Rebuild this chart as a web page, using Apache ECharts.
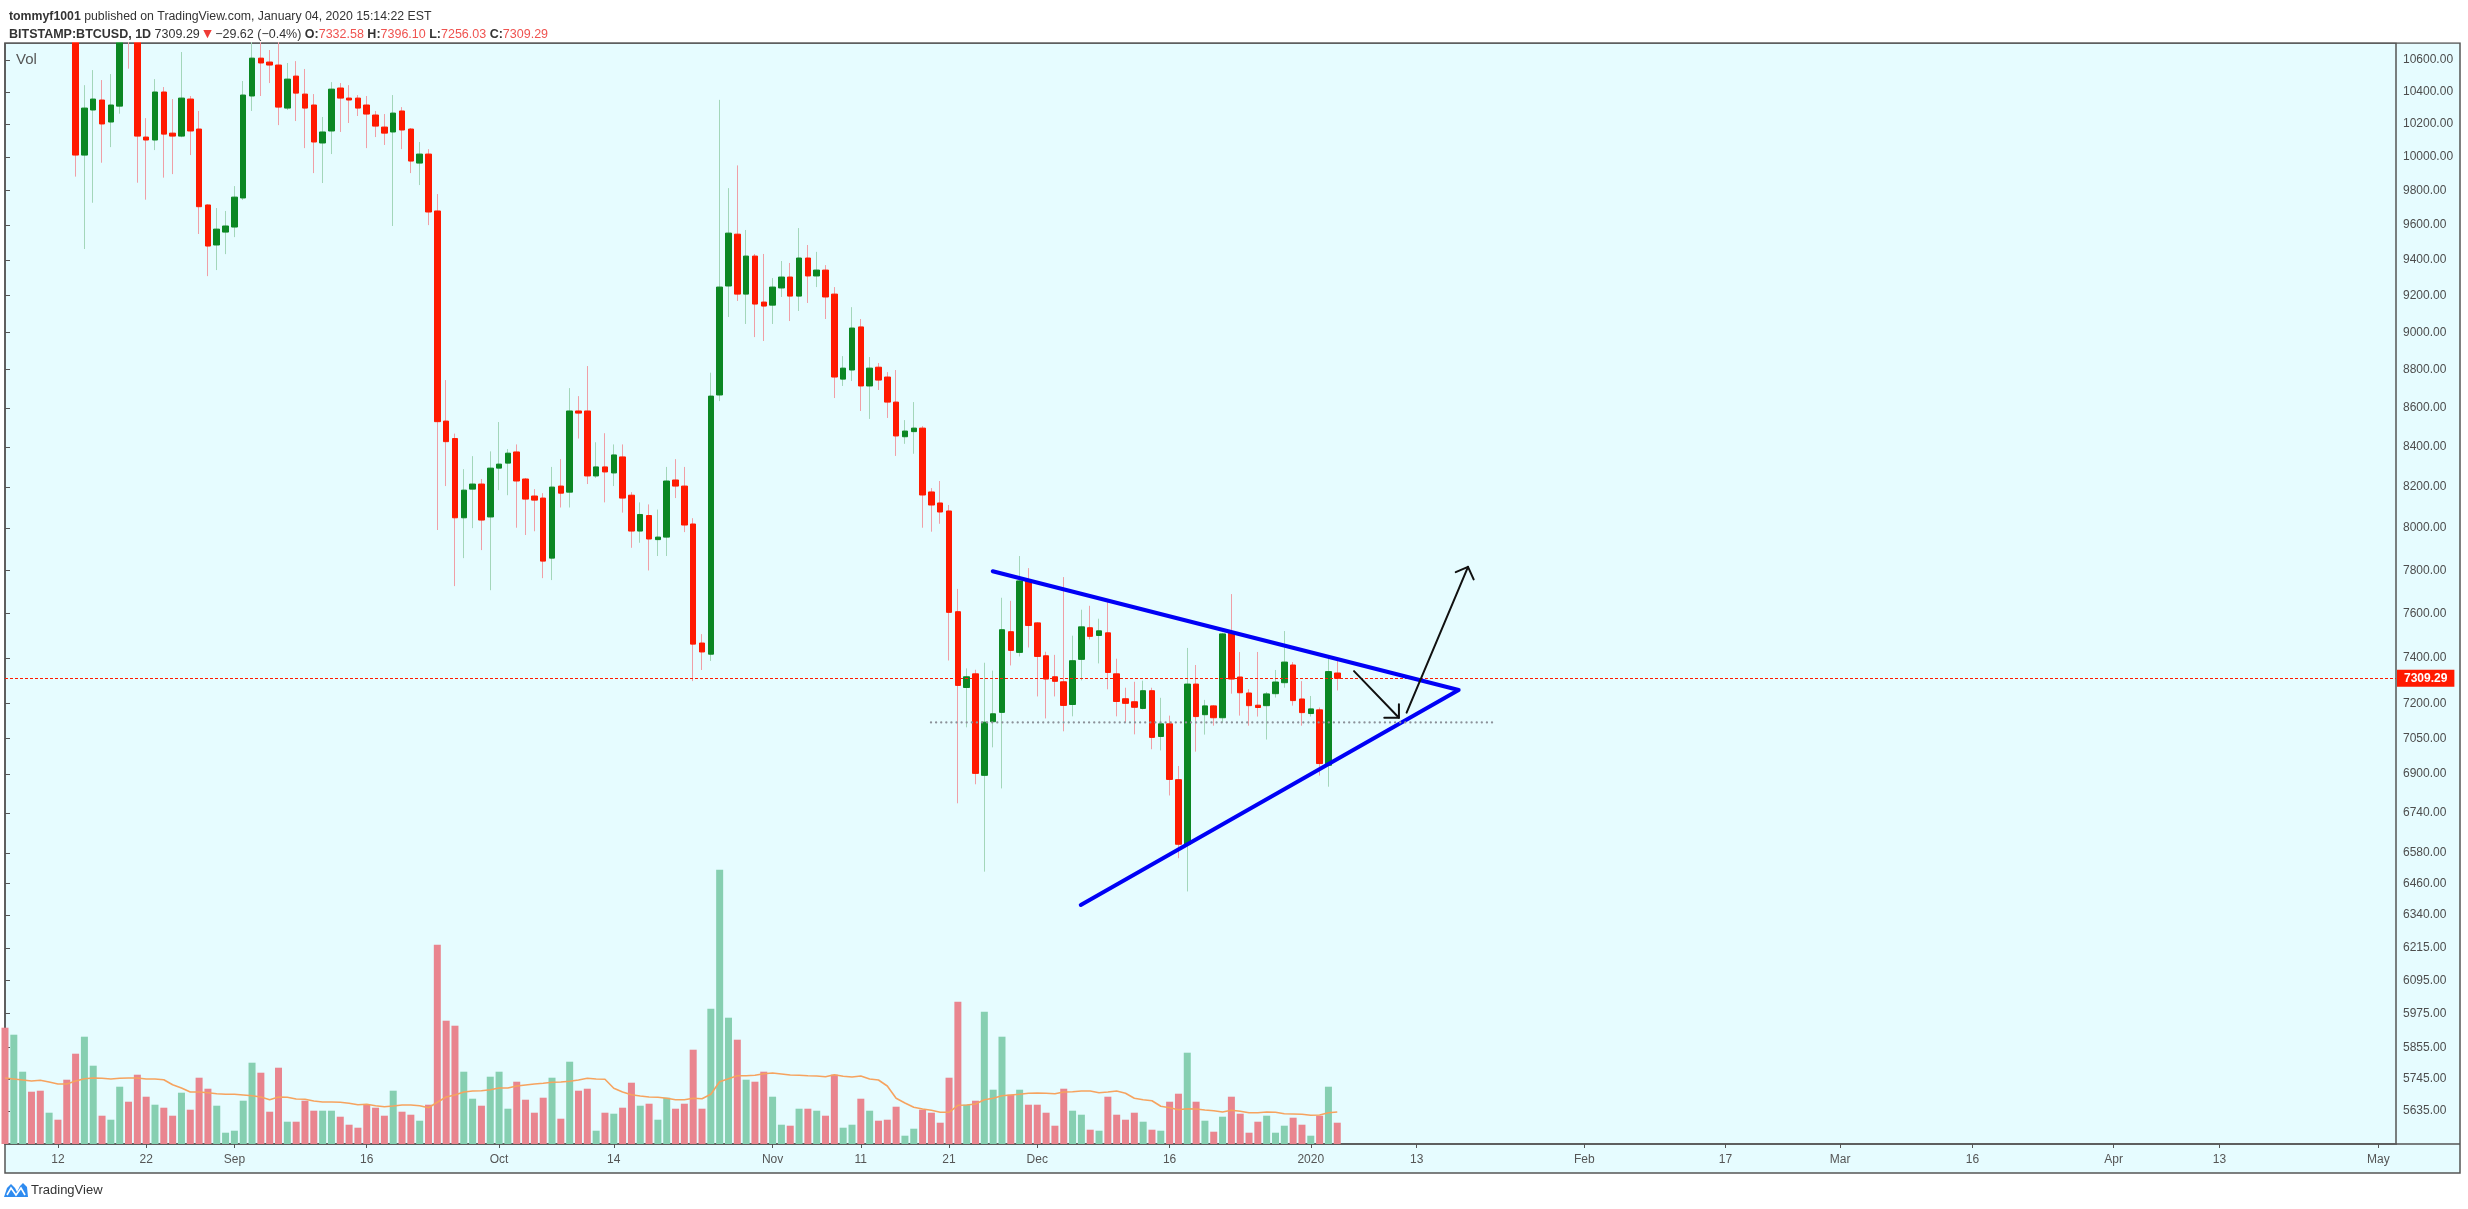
<!DOCTYPE html>
<html><head><meta charset="utf-8">
<script src="https://cdn.jsdelivr.net/npm/echarts@6/dist/echarts.min.js"></script>
<style>html,body{margin:0;padding:0;background:#fff;}#c{width:2468px;height:1209px;}</style>
</head><body><div id="c"></div>
<script>
// ---------- data (BITSTAMP:BTCUSD daily, 2019-08-06 .. 2020-01-04) ----------
const firstDay = '2019-08-06';
const axisLastDay = '2020-05-03';
const open = [
11800,11470,11960,11970,11860,11290,11540,11390,10870,10012,10287,10349,10213,10311,10920,10760,10121,10103,10399,10145,10127,10355,10170,9716,9485,9559,
9588,9757,10374,10613,10588,10569,10299,10499,10386,10318,10085,10158,10424,10361,10361,10318,10256,10182,10152,10281,10170,9964,10018,9681,8532,8443,8050,8190,8215,8054,
8294,8319,8375,8240,8156,8146,7857,8205,8175,8584,8584,8255,8300,8270,8350,8160,7986,8061,7945,7957,8235,8205,8020,7466,7416,8667,9254,9547,9209,9422,9165,
9148,9243,9304,9198,9411,9310,9343,9209,8750,8798,9029,8714,8813,8761,8630,8452,8478,8496,8176,8122,8083,7608,7269,7329,6895,7121,7161,7517,7424,7750,
7557,7409,7316,7294,7195,7393,7535,7500,7512,7329,7220,7207,7178,7255,7058,7112,6877,6615,7284,7151,7189,7138,7511,7315,7245,7192,7190,7242,7290,7368,7219,
7156,7172,6937,7332.58];
const high = [
12000,12120,12010,12030,11960,11550,11580,11450,10900,10442,10537,10474,10512,10950,10950,10800,10237,10480,10430,10355,10652,10374,10281,9720,9698,9681,
9827,10468,10780,10800,10665,10900,10582,10594,10544,10386,10244,10461,10455,10442,10380,10374,10281,10262,10380,10305,10176,10091,10048,9780,8745,8468,8289,8354,8240,8378,
8527,8390,8413,8245,8190,8170,8300,8339,8703,8661,8819,8424,8470,8413,8413,8175,8125,8115,8090,8300,8339,8300,8048,7506,8784,10350,9815,9950,9571,9434,9434,
9298,9394,9383,9582,9485,9446,9371,9248,8872,9137,9072,8867,8835,8787,8798,8537,8630,8506,8195,8230,8112,7713,7353,7347,7378,7343,7672,7658,7867,7810,
7560,7427,7413,7768,7499,7617,7635,7576,7654,7396,7268,7294,7299,7268,7224,7147,6934,7444,7368,7215,7192,7512,7689,7426,7262,7426,7249,7346,7520,7381,7297,
7232,7182,7403,7396.10];
const low = [
11230,11390,11500,11660,11250,11120,11240,10780,9883,9462,9729,9966,10060,10264,10546,9847,9747,10042,9877,9898,10120,10012,9548,9309,9343,9433,
9530,9745,10281,10374,10455,10194,10287,10219,10054,9904,9845,10018,10152,10207,10250,10054,10121,10073,9594,10048,9904,9833,9599,7991,8205,7726,7857,8000,7895,7707,
8185,8160,8002,7967,7985,7763,7754,8100,8100,8443,8215,8245,8125,8205,8075,7906,7930,7799,7867,7867,8146,7981,7297,7346,7386,8635,9083,9171,9045,8974,8953,
9045,9193,9061,9116,9160,9248,9072,8651,8714,8740,8584,8543,8693,8548,8355,8416,8366,8002,7983,8021,7388,6780,7097,6858,6507,7012,6841,7366,7406,7446,
7230,7135,7230,7080,7144,7300,7482,7375,7261,7144,7118,7067,7174,7004,6999,6812,6560,6430,6994,7066,7104,7117,7242,7147,7104,7143,7045,7225,7268,7190,7104,
7143,6894,6848,7256.03];
const close = [
11470,11960,11970,11860,11290,11540,11390,10870,10012,10299,10355,10201,10318,10920,10760,10127,10103,10399,10139,10127,10361,10158,9706,9479,9576,9594,
9762,10380,10613,10582,10569,10305,10480,10392,10299,10091,10152,10417,10361,10349,10299,10262,10188,10145,10268,10164,9976,10018,9675,8529,8427,8050,8185,8215,8039,8294,
8314,8369,8230,8141,8136,7843,8200,8170,8584,8573,8255,8300,8275,8360,8146,7986,8066,7948,7957,8230,8205,8015,7461,7426,8661,9248,9553,9209,9422,9154,9143,
9248,9304,9198,9411,9310,9343,9193,8761,8808,9023,8714,8808,8745,8630,8456,8481,8496,8161,8112,8078,7605,7278,7316,6903,7119,7155,7526,7433,7750,7545,
7406,7306,7296,7191,7387,7539,7496,7521,7335,7208,7200,7183,7255,7054,7112,6878,6615,7284,7143,7189,7138,7507,7306,7246,7190,7182,7241,7293,7381,7212,7160,
7176,6944,7338.91,7309.29];
const volume = [
11630,10930,7230,5230,5330,3130,2430,6430,9030,10730,7830,2830,2430,5730,4230,6930,4730,3930,3630,2830,5130,3430,6630,5530,3830,1130,
1330,4330,8130,7130,3230,7630,2230,2230,4330,3330,3330,3330,2730,1930,1630,3930,3630,2830,5330,3230,2930,2330,3930,19930,12330,11830,7230,4530,3830,6730,
7230,3530,6230,4430,3130,4630,6630,2530,8230,5330,5530,1330,3130,3030,3630,6130,3830,4030,2430,4630,3530,4030,9430,3530,13530,27430,12630,10430,6430,6230,7230,
4730,1930,1830,3530,3530,3330,2830,6930,1630,1930,4530,3330,2330,2430,3730,830,1530,3430,3130,2130,6630,14230,3930,4330,13230,5430,10730,4930,5430,3930,
3930,3130,1830,5530,3330,2930,1430,1330,4730,2930,2430,3130,2230,1430,1330,4230,5030,9130,4230,2330,1230,2730,4730,3030,1130,2230,2830,1130,1830,2630,1930,
830,2830,5730,2130];
const volumeMA = [
6600,6500,6400,6300,6370,6200,6000,6000,6300,6530,6600,6570,6500,6570,6600,6600,6500,6500,6430,5930,5600,5200,5200,5130,5030,4970,
4970,4900,4830,4700,4430,4700,4670,4500,4470,4300,4200,4200,4170,4070,3930,3970,3830,3730,3800,3900,3900,3830,3630,4170,4700,4900,5200,5300,5330,5430,
5600,5600,5800,5900,6000,6070,6170,6200,6270,6400,6570,6500,6470,5570,5200,4930,4800,4700,4670,4570,4430,4430,4570,4530,4970,6230,6530,6830,6830,6870,7030,
7100,7000,6900,6870,6830,6800,6730,6930,6770,6700,6800,6500,6400,5800,4570,4100,3670,3500,3370,3170,3170,3870,3900,4000,4430,4570,4830,4900,4970,5070,
5100,5070,5030,5200,5230,5300,5300,5130,5200,5300,5070,4570,4430,4330,3770,3630,3430,3530,3500,3400,3330,3200,3370,3270,3130,3130,3200,3170,3030,3000,2970,
2870,2900,3130,3200];
const lastPrice = 7309.29;
const tickDates = ['2019-08-12','2019-08-22','2019-09-01','2019-09-16','2019-10-01','2019-10-14','2019-11-01','2019-11-11','2019-11-21','2019-12-01','2019-12-16','2020-01-01','2020-01-13','2020-02-01','2020-02-17','2020-03-01','2020-03-16','2020-04-01','2020-04-13','2020-05-01'];
const tickLabels = ['12','22','Sep','16','Oct','14','Nov','11','21','Dec','16','2020','13','Feb','17','Mar','16','Apr','13','May'];
const priceTicks = [5635,5745,5855,5975,6095,6215,6340,6460,6580,6740,6900,7050,7200,7400,7600,7800,8000,8200,8400,8600,8800,9000,9200,9400,9600,9800,10000,10200,10400,10600];
// drawings: [days after 2019-08-06, price]
const triangleLines = [[111.95,7795],[164.76,7258],[121.93,6378]];
const dottedLevel = [[104.95,7118],[168.8,7118]];
const arrowDownShaft = [[152.9,7341],[157.99,7138]];
const arrowDownHead = [[156.33,7138],[157.99,7138],[157.99,7196]];
const arrowUpShaft = [[158.86,7160],[165.82,7816]];
const arrowUpHead = [[164.43,7791],[165.82,7816],[166.46,7757]];

// ---------- helpers ----------
function dayList(startIso, endIso) {
  const s = Date.parse(startIso + 'T00:00:00Z'), e = Date.parse(endIso + 'T00:00:00Z');
  const out = [];
  for (let t = s; t <= e; t += 86400000) out.push(new Date(t).toISOString().slice(0, 10));
  return out;
}
const categories = dayList(firstDay, axisLastDay);
const tickMap = {};
tickDates.forEach((d, i) => { tickMap[d] = tickLabels[i]; });

const UP = '#0B8723', DOWN = '#FF1A00';
const WICK_UP = '#A3D6BA', WICK_DOWN = '#F09FA6';
const VOL_UP = '#86CFB1', VOL_DOWN = '#E9858F';
const FONT = 'Liberation Sans, Arial, sans-serif';

const wickData = open.map((o, i) => [o, close[i], low[i], high[i]]);
const bodyData = open.map((o, i) => [o, close[i], Math.min(o, close[i]), Math.max(o, close[i])]);
const volData = volume.map((v, i) => ({ value: v, itemStyle: { color: close[i] >= open[i] ? VOL_UP : VOL_DOWN } }));

const chart = echarts.init(document.getElementById('c'), null, { renderer: 'canvas' });
const lineSeries = (name, data, color, width, type, z) => ({
  name, type: 'line', xAxisIndex: 1, yAxisIndex: 0, data, symbol: 'none', silent: true,
  lineStyle: { color, width, type: type || 'solid', cap: 'round', join: 'round' }, z: z || 6, animation: false
});

chart.setOption({
  animation: false,
  backgroundColor: '#ffffff',
  title: [
    { left: 4, top: 6, z: 100, text: '{b|tommyf1001} published on TradingView.com, January 04, 2020 15:14:22 EST',
      textStyle: { fontSize: 12.3, fontWeight: 'normal', color: '#333', fontFamily: FONT,
        rich: { b: { fontSize: 12.3, fontWeight: 'bold', color: '#333', fontFamily: FONT } } } },
    { left: 4, top: 23, z: 100, text: '{b|BITSTAMP:BTCUSD, 1D} {n|7309.29} {t|▼} {n|−29.62 (−0.4%)} {b|O:}{r|7332.58} {b|H:}{r|7396.10} {b|L:}{r|7256.03} {b|C:}{r|7309.29}',
      textStyle: { fontSize: 12.5, fontWeight: 'normal', color: '#333', fontFamily: FONT,
        rich: {
          b: { fontSize: 12.5, fontWeight: 'bold', color: '#333', fontFamily: FONT },
          n: { fontSize: 12.5, color: '#333', fontFamily: FONT },
          t: { fontSize: 11, color: '#EF3B36', fontFamily: 'DejaVu Sans' },
          r: { fontSize: 12.5, color: '#EF5350', fontFamily: FONT } } } }
  ],
  graphic: [
    { type: 'rect', z: -10, silent: true, shape: { x: 5, y: 43, width: 2455, height: 1130 },
      style: { fill: '#E6FCFF', stroke: '#555', lineWidth: 1.5 } },
    { type: 'rect', z: 50, silent: true, shape: { x: 0, y: 0, width: 2468, height: 42.2 },
      style: { fill: '#ffffff' } },
    { type: 'line', z: 10, silent: true, shape: { x1: 2396, y1: 1144, x2: 2460, y2: 1144 },
      style: { stroke: '#555', lineWidth: 1.5 } },
    { type: 'text', z: 10, silent: true, left: 16, top: 52,
      style: { text: 'Vol', fill: '#555', font: '15px ' + FONT } },
    { type: 'group', left: 4, top: 1183, children: [
      { type: 'polygon', shape: { points: [[0,14],[3,5],[7,1],[11,5],[13,9],[16,3],[19,0],[23,4],[24,14]] },
        style: { fill: '#2E8BF0' } },
      { type: 'polyline', shape: { points: [[3,12],[7,5],[12,12],[17,5],[21,12]] },
        style: { stroke: '#fff', lineWidth: 1.6, fill: null } },
      { type: 'text', x: 27, y: 1, style: { text: 'TradingView', fill: '#333', font: '13px ' + FONT } }
    ] }
  ],
  grid: [
    { left: 5, right: 72, top: 43, bottom: 65, show: true, borderColor: '#555', borderWidth: 1.5, backgroundColor: 'rgba(0,0,0,0)', z: 1 },
    { left: 5, right: 72, top: 844, bottom: 65, show: false }
  ],
  xAxis: [
    { type: 'category', gridIndex: 0, data: categories, boundaryGap: false,
      axisLine: { show: true, lineStyle: { color: '#555', width: 1.5 } },
      axisTick: { show: true, length: 4, interval: (i, v) => tickMap[v] !== undefined, lineStyle: { color: '#555' } },
      axisLabel: { show: true, interval: (i, v) => tickMap[v] !== undefined, formatter: v => tickMap[v] || '',
        color: '#555', fontSize: 12, fontFamily: FONT, margin: 10 },
      splitLine: { show: false } },
    { type: 'value', gridIndex: 0, min: 0, max: categories.length - 1, show: false },
    { type: 'category', gridIndex: 1, data: categories, boundaryGap: false, show: false }
  ],
  yAxis: [
    { type: 'log', gridIndex: 0, position: 'right', min: 5524, max: 10710, logBase: 10,
      axisLine: { show: false },
      axisTick: { show: true, length: 5, customValues: priceTicks, lineStyle: { color: '#555' } },
      axisLabel: { show: true, customValues: priceTicks, formatter: v => Number(v).toFixed(2),
        color: '#4d4d4d', fontSize: 12, fontFamily: FONT, margin: 7 },
      splitLine: { show: false } },
    { type: 'value', gridIndex: 1, min: 0, max: 30000, show: false }
  ],
  series: [
    { name: 'wicks', type: 'candlestick', xAxisIndex: 0, yAxisIndex: 0, data: wickData, barWidth: 1, clip: true, z: 2,
      itemStyle: { color: WICK_UP, color0: WICK_DOWN, borderColor: WICK_UP, borderColor0: WICK_DOWN, borderWidth: 1 },
      markLine: { silent: true, symbol: ['none', 'none'], animation: false,
        lineStyle: { color: '#FF1A00', type: [3, 2], width: 1 },
        label: { show: true, position: 'end', distance: 1, formatter: lastPrice.toFixed(2), backgroundColor: '#FF1A00',
          color: '#fff', fontWeight: 'bold', fontSize: 12, fontFamily: FONT, padding: [3, 7, 2, 7] },
        data: [{ yAxis: lastPrice }] } },
    { name: 'bodies', type: 'candlestick', xAxisIndex: 0, yAxisIndex: 0, data: bodyData, barWidth: 6, clip: true, z: 3,
      itemStyle: { color: UP, color0: DOWN, borderColor: UP, borderColor0: DOWN, borderWidth: 1 } },
    { name: 'Vol', type: 'bar', xAxisIndex: 2, yAxisIndex: 1, data: volData, barWidth: 7, z: 1 },
    { name: 'Vol MA', type: 'line', xAxisIndex: 2, yAxisIndex: 1, data: volumeMA, symbol: 'none', z: 2,
      lineStyle: { color: '#F6A35F', width: 1.6 } },
    lineSeries('triangle', triangleLines, '#0000F5', 4),
    lineSeries('level', dottedLevel, '#8C9199', 2.2, [0.1, 5]),
    lineSeries('arrowDownShaft', arrowDownShaft, '#111', 2),
    lineSeries('arrowDownHead', arrowDownHead, '#111', 2),
    lineSeries('arrowUpShaft', arrowUpShaft, '#111', 2),
    lineSeries('arrowUpHead', arrowUpHead, '#111', 2)
  ]
});
</script></body></html>
